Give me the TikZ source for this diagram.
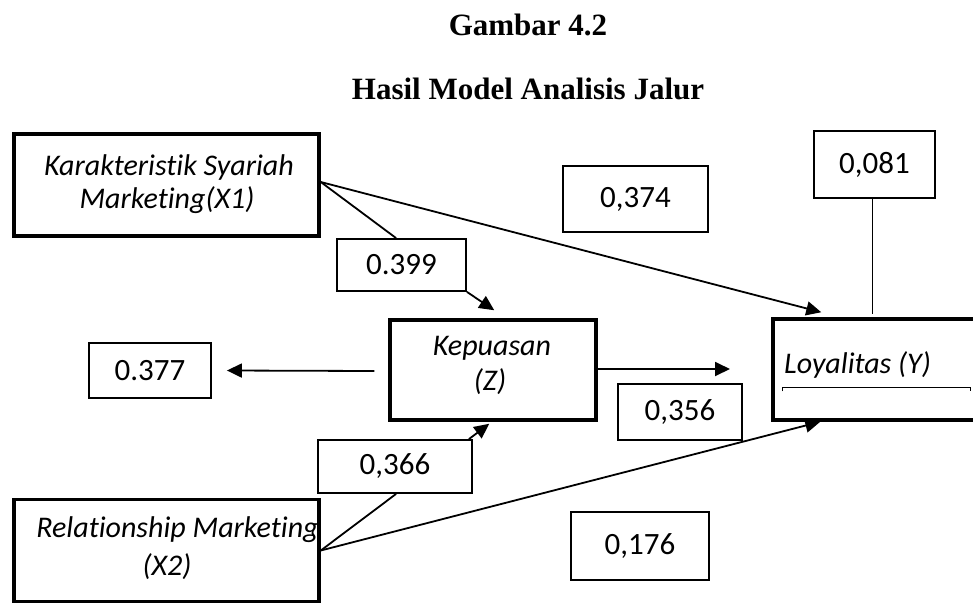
\documentclass[tikz,border=0pt]{standalone}
\usepackage{fontspec}
\setmainfont{Carlito}[RawFeature=-liga]
\newfontfamily\titlefont{Liberation Serif}
\usetikzlibrary{arrows.meta,calc}
\begin{document}
\begin{tikzpicture}[x=1pt,y=-1pt,
  bigbox/.style={draw,line width=3.5pt,inner sep=0pt,anchor=center},
  numbox/.style={draw,line width=1.8pt,inner sep=0pt,anchor=center,font=\fontsize{31}{36}\selectfont},
  conn/.style={line width=1.8pt},
  arr/.style={conn,-{Triangle[length=15pt,width=14pt]}},
  lbl/.style={font=\fontsize{30}{36}\selectfont\itshape,inner sep=0pt,anchor=base},
  ttl/.style={font=\fontsize{31}{34}\selectfont\titlefont\bfseries,inner sep=0pt,anchor=base}
]
\useasboundingbox (0,0) rectangle (973,605);
% titles
\node[ttl] (t1) at (528,35) {Gambar 4.2};
\node[ttl] (t2) at (528,99) {Hasil Model Analisis Jalur};
% main boxes
\node[bigbox,minimum width=305,minimum height=102] (X1) at (166.5,185) {};
\node[bigbox,minimum width=305,minimum height=102] (X2) at (166.5,550.5) {};
\node[bigbox,minimum width=206,minimum height=100] (Z) at (493,370) {};
\node[bigbox,minimum width=212,minimum height=101] (Y) at (879,369.5) {};
% labels
\node[lbl] (X1a) at (169,175) {Karakteristik Syariah};
\node[lbl] (X1b) at (167,208) {Marketing(X1)};
\node[lbl] (Za) at (492,355) {Kepuasan};
\node[lbl] (Zb) at (490,390) {(Z)};
\node[lbl] (X2a) at (177.5,537) {Relationship Marketing};
\node[lbl] (X2b) at (167,575) {(X2)};
\node[lbl,anchor=base west] (Ya) at (784,373) {Loyalitas (Y)};
% number boxes
\node[numbox,minimum width=121,minimum height=67] (b081) at (874.5,164.5) {0,081};
\node[numbox,minimum width=145,minimum height=66] (b374) at (635.5,199) {0,374};
\node[numbox,minimum width=129,minimum height=52] (b399) at (401.5,265) {0.399};
\node[numbox,minimum width=122,minimum height=55] (b377) at (150,370.5) {0.377};
\node[numbox,minimum width=124,minimum height=56] (b356) at (680,412) {0,356};
\node[numbox,minimum width=154,minimum height=53] (b366) at (395,466.5) {0,366};
\node[numbox,minimum width=138,minimum height=68] (b176) at (640,546) {0,176};
% connectors
\draw[arr] ($(X1.east)+(0,-3)$) -- ($(Y.north west)+(50,-5)$);
\draw[conn] ($(X1.east)+(0,-3)$) -- ($(b399.north west)+(60,0)$);
\draw[arr] (b399.south east) -- ($(Z.north west)+(106,-8)$);
\draw[arr] ($(Z.west)+(-14,1)$) -- ($(b377.east)+(15,0)$);
\coordinate (zr) at (730,369);
\draw[arr] ($(Z.east)+(-4,-1)$) -- (zr);
\draw[conn] ($(b081.south)+(-2,0)$) -- ($(b081.south)+(-2,115)$);
\draw[conn] (X2.east) -- ($(b366.south west)+(79,0)$);
\draw[arr] ($(b366.north east)+(-4,0)$) -- ($(Z.south west)+(101,2)$);
\draw[arr] (X2.east) -- ($(Y.south west)+(49,0)$);
% bracket inside Y
\draw[line width=1.5pt] ($(Y.north west)+(11,74)$) -- ($(Y.north west)+(11,70)$) -- ($(Y.north west)+(199,70)$) -- ($(Y.north west)+(199,74)$);
\end{tikzpicture}
\end{document}
